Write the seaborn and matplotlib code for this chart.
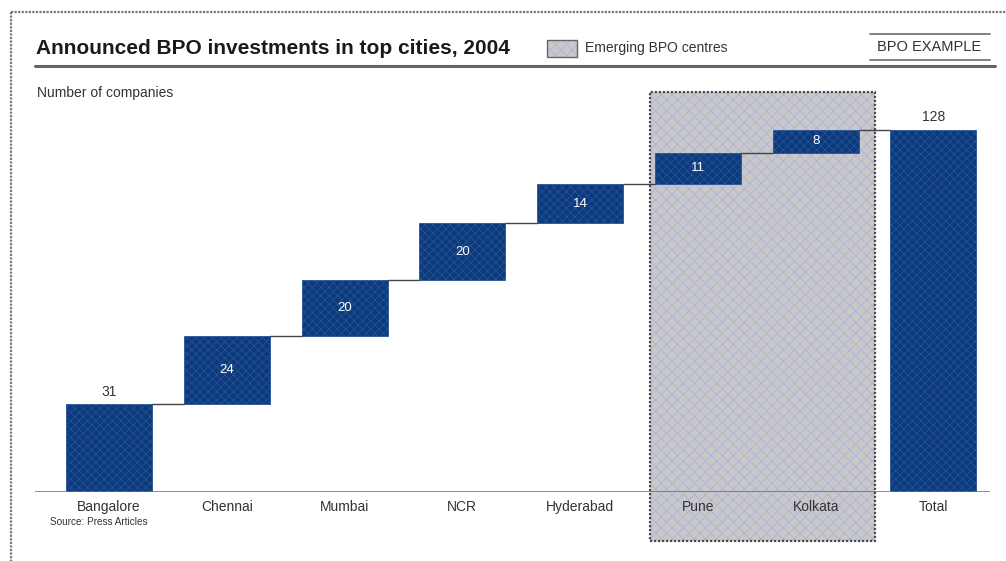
import matplotlib
matplotlib.use("Agg")
import matplotlib.pyplot as plt
from matplotlib.patches import Rectangle
from matplotlib.lines import Line2D
import matplotlib.font_manager as fm
import seaborn as sns
import numpy as np

# ---- data ----
cities = ["Bangalore", "Chennai", "Mumbai", "NCR", "Hyderabad", "Pune", "Kolkata", "Total"]
increments = [31, 24, 20, 20, 14, 11, 8]
total = 128
emerging = ["Pune", "Kolkata"]

title = "Announced BPO investments in top cities, 2004"
legend_label = "Emerging BPO centres"
tag = "BPO EXAMPLE"
ylabel = "Number of companies"
source = "Source: Press Articles"

# ---- derived ----
tops = list(np.cumsum(increments)) + [total]
bases = [0] + list(np.cumsum(increments)[:-1]) + [0]
heights = increments + [total]

sns.set_style("white")
names = {f.name for f in fm.fontManager.ttflist}
fam = [f for f in ["Liberation Sans Narrow", "Liberation Sans", "DejaVu Sans"] if f in names]
plt.rcParams["font.family"] = fam
plt.rcParams["hatch.linewidth"] = 0.5

W, H = 1006, 561
fig = plt.figure(figsize=(W / 100, H / 100), dpi=100)
fx = lambda px: px / W
fy = lambda py: 1 - py / H

# axes: x from 35 to 990 px, y from baseline 492 to 92 px
ax = fig.add_axes([fx(35), fy(492), fx(990) - fx(35), fy(92) - fy(492)])
ax.set_facecolor("none")
ax.set_axisbelow(False)

navy = "#0b3b7c"
barw = 0.73
sns.barplot(x=cities, y=heights, bottom=bases, color=navy, width=barw,
            saturation=1, ax=ax, edgecolor="#2f5b9c", hatch="xxxx", linewidth=0.6, zorder=3)
for p in ax.patches:
    p.set_edgecolor("#2a5496")

ymax = (492 - 92) * total / (492 - 130)
ax.set_ylim(0, ymax)
ax.set_xlim(-0.628, 7.48)

# emerging region box
x0 = (650 - 109) / 117.8
x1 = (875 - 109) / 117.8
ybot = -(541 - 492) * total / (492 - 130)
ax.add_patch(Rectangle((x0, ybot), x1 - x0, ymax - ybot, facecolor="#c8c8c8",
                       edgecolor="#a9b0dc", hatch="xxx", linewidth=0, clip_on=False, zorder=1))
ax.add_patch(Rectangle((x0, ybot), x1 - x0, ymax - ybot, facecolor="none",
                       edgecolor="#4a4a4a", linewidth=1.6, linestyle=(0, (1, 0.8)),
                       clip_on=False, zorder=1.5))

# baseline
ax.axhline(0, color="#6a6a6a", lw=1.8, zorder=4)

# connectors
for i in range(len(cities) - 1):
    ax.plot([i + barw / 2, i + 1 - barw / 2], [tops[i], tops[i]], color="#444444", lw=1.0, zorder=2)

# value labels
for i, (b, h) in enumerate(zip(bases, heights)):
    if i == 0 or i == len(cities) - 1:
        ax.text(i, b + h + 2, str(h), ha="center", va="bottom", fontsize=10, color="#333333")
    else:
        ax.text(i, b + h / 2, str(h), ha="center", va="center", fontsize=9.5, color="white", zorder=5)

# axes cosmetics
for s in ax.spines.values():
    s.set_visible(False)
ax.set_yticks([])
ax.set_xlabel("")
ax.set_ylabel("")
ax.tick_params(axis="x", length=0, pad=14.0, labelsize=10, labelcolor="#333333")
for lab in ax.get_xticklabels():
    lab.set_verticalalignment("baseline")

# ---- figure furniture ----
gray = "#777777"
fig.add_artist(Line2D([fx(11), fx(1006)], [fy(12), fy(12)], color=gray, lw=1.6, ls=(0, (1, 0.6))))
fig.add_artist(Line2D([fx(11), fx(11)], [fy(12), fy(561)], color=gray, lw=1.6, ls=(0, (1, 0.6))))

fig.text(fx(36), fy(48), title, fontsize=15, fontweight="bold", va="center", ha="left", color="#1a1a1a")
fig.add_artist(Line2D([fx(35), fx(995)], [fy(66), fy(66)], color="#666666", lw=2.2))

# legend
fig.add_artist(Rectangle((fx(547), fy(57)), fx(577) - fx(547), fy(40) - fy(57), transform=fig.transFigure,
                         facecolor="#c8c8c8", edgecolor="#a9b0dc", hatch="xxx", lw=0))
fig.add_artist(Rectangle((fx(547), fy(57)), fx(577) - fx(547), fy(40) - fy(57), transform=fig.transFigure,
                         facecolor="none", edgecolor="#666666", lw=1.0))
fig.text(fx(585), fy(48), legend_label, fontsize=10, va="center", ha="left", color="#333333")

# tag
fig.text(fx(929), fy(47), tag, fontsize=10.5, va="center", ha="center", color="#333333")
fig.add_artist(Line2D([fx(870), fx(990)], [fy(34), fy(34)], color=gray, lw=1.3))
fig.add_artist(Line2D([fx(870), fx(990)], [fy(60), fy(60)], color=gray, lw=1.3))

fig.text(fx(37), fy(93), ylabel, fontsize=10, va="center", ha="left", color="#333333")
fig.text(fx(50), fy(522), source, fontsize=7.2, va="center", ha="left", color="#333333")

fig.savefig("out.png", dpi=100)
